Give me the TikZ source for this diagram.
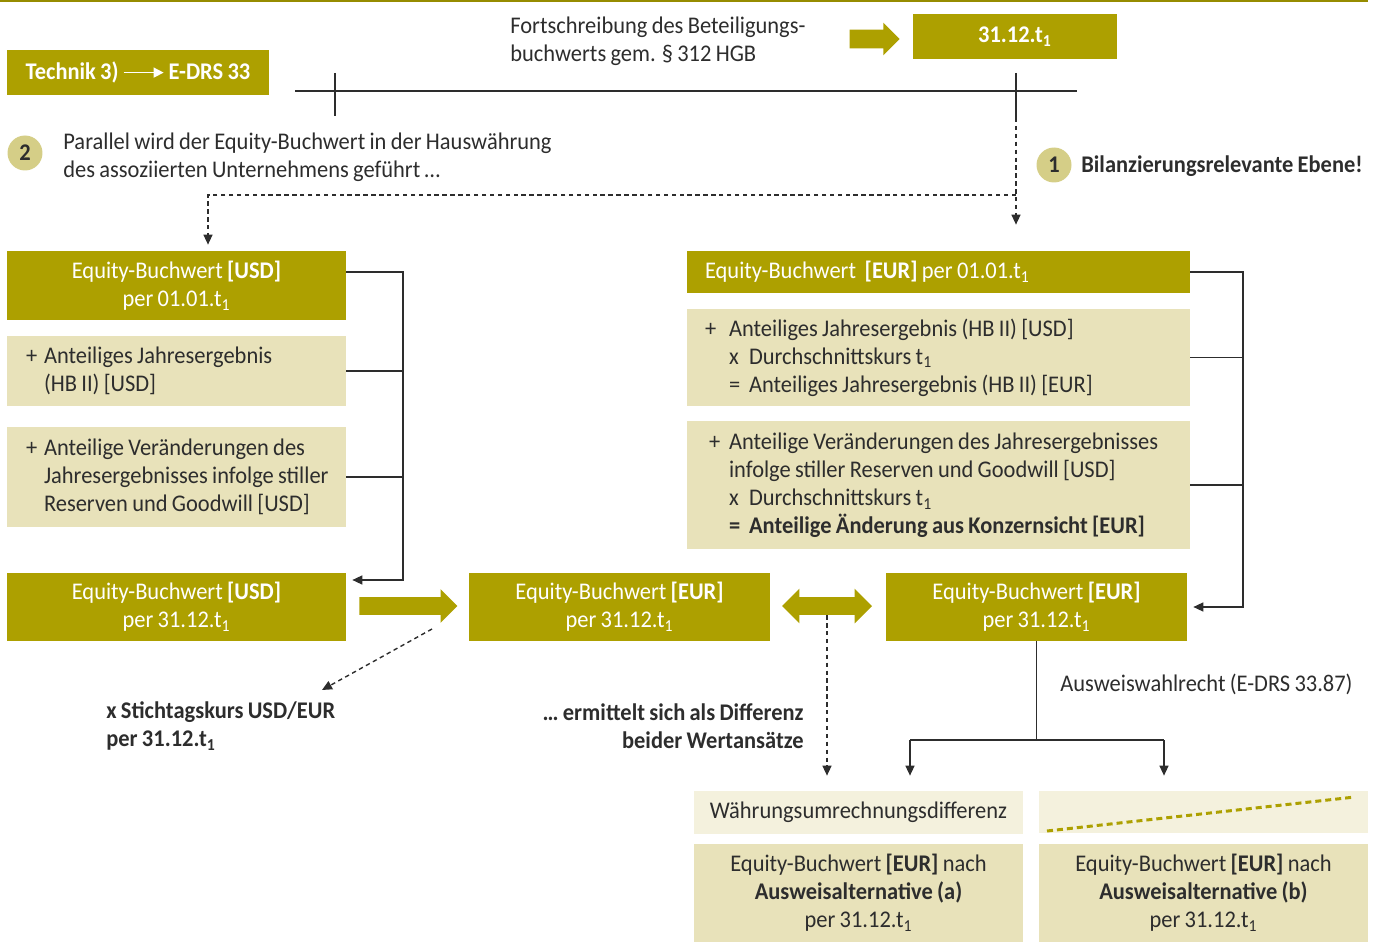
\documentclass[tikz,border=0pt]{standalone}
\usepackage{fontspec}
\setmainfont{Carlito}[FakeStretch=0.94, WordSpace=0.85]
\usetikzlibrary{arrows.meta,shapes.arrows,calc}

\definecolor{techolive}{RGB}{173,160,0}
\definecolor{techpale}{RGB}{232,226,186}
\definecolor{techpaler}{RGB}{244,241,221}
\definecolor{techdot}{RGB}{213,206,135}
\definecolor{techrule}{RGB}{150,140,0}
\definecolor{techline}{RGB}{45,45,45}

\newcommand{\tsub}{t\textsubscript{1}}
\newcommand{\opsign}[1]{\makebox[0.4cm][l]{#1}}
\newcommand{\plussign}{\hspace*{0.09cm}\makebox[0.36cm][l]{+}}

\begin{document}
\begin{tikzpicture}[x=0.02cm, y=-0.02cm,
    font=\fontsize{13.6}{16}\selectfont, text=techline,
    every node/.append style={execute at begin node={\spaceskip=0pt\xspaceskip=0pt\relax}},
    bold/.style={font=\fontsize{13.6}{16}\selectfont\bfseries},
    note/.style={inner sep=0pt},
    darkbox/.style={rectangle, fill=techolive, text=white, inner sep=0pt, align=center},
    palebox/.style={rectangle, fill=techpale, inner sep=0pt, align=left},
    numdot/.style={circle, fill=techdot, minimum size=0.7cm, inner sep=0pt, bold},
    blockarrow/.style={single arrow, fill=techolive, inner xsep=0pt, inner ysep=0.17cm, single arrow head extend=0.16cm},
    dblarrow/.style={double arrow, fill=techolive, inner xsep=0pt, inner ysep=0.17cm, double arrow head extend=0.17cm},
    line/.style={line width=0.8pt, draw=techline},
    arrow/.style={line, -{Triangle[length=0.2cm,width=0.18cm]}},
    dasharrow/.style={arrow, dash pattern=on 2.5pt off 2pt}
]
\useasboundingbox (0,0) rectangle (1383,942);

% Header
\draw[line width=0.04cm, techrule] (0,1) -- (1368,1);
\node[darkbox, bold, text=white, minimum width=5.24cm, minimum height=0.9cm] at (138,72.5) (technik) {Technik 3)\ \tikz[baseline=-0.6ex]\draw[white, line width=0.8pt, -{Triangle[length=0.2cm,width=0.2cm]}] (0cm,0cm) -- (0.8cm,0cm);\ E-DRS 33};
\node[note, anchor=west, align=left] at (510,41) (fortschr) {Fortschreibung des Beteiligungs-\\buchwerts gem. \S{} 312 HGB};
\node[blockarrow, minimum height=1cm, inner ysep=0.18cm, single arrow head extend=0.14cm] at (870,39) (fwd) {};
\node[darkbox, bold, text=white, minimum width=4.08cm, minimum height=0.9cm] at (1015,36.5) (stichtag) {31.12.\tsub};

% Timeline
\coordinate (tlstart) at (295,91);
\coordinate (tlend) at (1077,91);
\coordinate (tickdash) at (1016,118);
\draw[line] (tlstart) -- (tlend);
\draw[line] (335,73) -- (335,116);
\draw[line] (1016,73) -- (tickdash);

% Levels
\node[numdot] at (25,153) (two) {2};
\node[note, anchor=west, align=left] at (63,157) (parallel) {Parallel wird der Equity-Buchwert in der Hauswährung\\des assoziierten Unternehmens geführt \dots};
\node[numdot] at (1054,165) (one) {1};
\node[note, anchor=west, bold] at (1081,166) (ebene) {Bilanzierungsrelevante Ebene!};

% Left column (USD)
\node[darkbox, minimum width=6.78cm, minimum height=1.38cm] at (176.5,285.5) (usd01) {Equity-Buchwert \textbf{[USD]}\\per 01.01.\tsub};
\node[palebox, minimum width=6.78cm, minimum height=1.4cm, inner xsep=0.29cm, text width=6.2cm] at (176.5,371) (usdaje) {\plussign Anteiliges Jahresergebnis\\\hspace*{0.45cm}(HB II) [USD]};
\node[palebox, minimum width=6.78cm, minimum height=2cm, inner xsep=0.29cm, text width=6.2cm] at (176.5,477) (usdavj) {\plussign Anteilige Veränderungen des\\\hspace*{0.45cm}Jahresergebnisses infolge stiller\\\hspace*{0.45cm}Reserven und Goodwill [USD]};
\node[darkbox, minimum width=6.78cm, minimum height=1.36cm] at (176.5,607) (usd31) {Equity-Buchwert \textbf{[USD]}\\per 31.12.\tsub};

% Right column (EUR)
\node[darkbox, align=left, minimum width=10.06cm, minimum height=0.84cm, inner xsep=0.36cm, text width=9.34cm] at (938.5,272) (eur01) {Equity-Buchwert\ \ \textbf{[EUR]} per 01.01.\tsub};
\node[palebox, minimum width=10.06cm, minimum height=1.94cm, inner xsep=0.36cm, text width=9.34cm] at (938.5,357.5) (euraje) {\makebox[0.48cm][l]{+}Anteiliges Jahresergebnis (HB II) [USD]\\\hspace*{0.48cm}\opsign{x}Durchschnittskurs \tsub\\\hspace*{0.48cm}\opsign{=}Anteiliges Jahresergebnis (HB II) [EUR]};
\node[palebox, minimum width=10.06cm, minimum height=2.56cm, inner xsep=0.36cm, text width=9.34cm] at (938.5,485) (euravj) {\hspace*{0.08cm}\opsign{+}Anteilige Veränderungen des Jahresergebnisses\\\hspace*{0.48cm}infolge stiller Reserven und Goodwill [USD]\\\hspace*{0.48cm}\opsign{x}Durchschnittskurs \tsub\\\hspace*{0.48cm}\textbf{\opsign{=}Anteilige Änderung aus Konzernsicht [EUR]}};

% Middle row
\node[blockarrow, minimum height=1.96cm] at (404,606) (toeur) {};
\node[darkbox, minimum width=6.02cm, minimum height=1.36cm] at (619.5,607) (eurmid) {Equity-Buchwert \textbf{[EUR]}\\per 31.12.\tsub};
\node[dblarrow, minimum height=1.8cm] at (827,606) (compare) {};
\node[darkbox, minimum width=6.02cm, minimum height=1.36cm] at (1036.5,607) (eurres) {Equity-Buchwert \textbf{[EUR]}\\per 31.12.\tsub};

% Notes
\node[note, anchor=west, align=left, bold] at (106,726) (stichkurs) {x Stichtagskurs USD/EUR\\per 31.12.\tsub};
\node[note, anchor=east, align=right, bold] at (804,726) (differenz) {\dots{} ermittelt sich als Differenz\\beider Wertansätze};
\node[note, anchor=west] at (1060,684) (wahlrecht) {Ausweiswahlrecht (E-DRS 33.87)};

% Bottom boxes
\node[rectangle, fill=techpaler, minimum width=6.58cm, minimum height=0.86cm] at (858.5,812.5) (wud) {Währungsumrechnungsdifferenz};
\node[rectangle, fill=techpaler, minimum width=6.58cm, minimum height=0.84cm] at (1203.5,812) (leer) {};
\node[rectangle, fill=techpale, align=center, minimum width=6.58cm, minimum height=1.96cm] at (858.5,893) (alta) {Equity-Buchwert \textbf{[EUR]} nach\\\textbf{Ausweisalternative (a)}\\per 31.12.\tsub};
\node[rectangle, fill=techpale, align=center, minimum width=6.58cm, minimum height=1.96cm] at (1203.5,893) (altb) {Equity-Buchwert \textbf{[EUR]} nach\\\textbf{Ausweisalternative (b)}\\per 31.12.\tsub};
\draw[techolive, line width=0.06cm, dash pattern=on 0.12cm off 0.08cm] (1047,831) -- (1355,797);

% Dashed guides from the timeline
\coordinate (split) at (1016,195);
\coordinate (usdturn) at (208,195);
\draw[dasharrow, shorten >=0.52cm] (tickdash) -- (tickdash |- eur01.north);
\draw[dasharrow, shorten >=0.12cm] (split) -- (usdturn) -- (usdturn |- usd01.north);

% Left bracket
\coordinate (lbartop) at (403,272);
\coordinate (lbar) at (403,580);
\draw[arrow, shorten >=0.12cm] (usd01.east |- lbartop) -- (lbartop) -- (lbar) -- (lbar -| usd31.east);
\draw[line] (usdaje.east) -- (usdaje.east -| lbar);
\draw[line] (usdavj.east) -- (usdavj.east -| lbar);

% Right bracket
\coordinate (rbar) at (1243,607);
\draw[arrow, shorten >=0.12cm] (eur01.east) -| (rbar) -- (eurres.east);
\draw[line] (euraje.east) -- (euraje.east -| rbar);
\draw[line] (euravj.east) -- (euravj.east -| rbar);

% Conversion and difference
\coordinate (kursstart) at (432,629);
\coordinate (kursend) at (322,690);
\draw[dasharrow] (kursstart) -- (kursend);
\draw[dasharrow, shorten >=0.3cm] (compare.south) -- (compare.south |- wud.north);

% Presentation choice
\coordinate (fork) at (1037,740);
\coordinate (forka) at (910,740);
\coordinate (forkb) at (1164,740);
\draw[line] (eurres.south) -- (eurres.south |- fork);
\draw[line] (forka) -- (forkb);
\draw[arrow, shorten >=0.3cm] (forka) -- (forka |- wud.north);
\draw[arrow, shorten >=0.3cm] (forkb) -- (forkb |- leer.north);

\end{tikzpicture}
\end{document}
